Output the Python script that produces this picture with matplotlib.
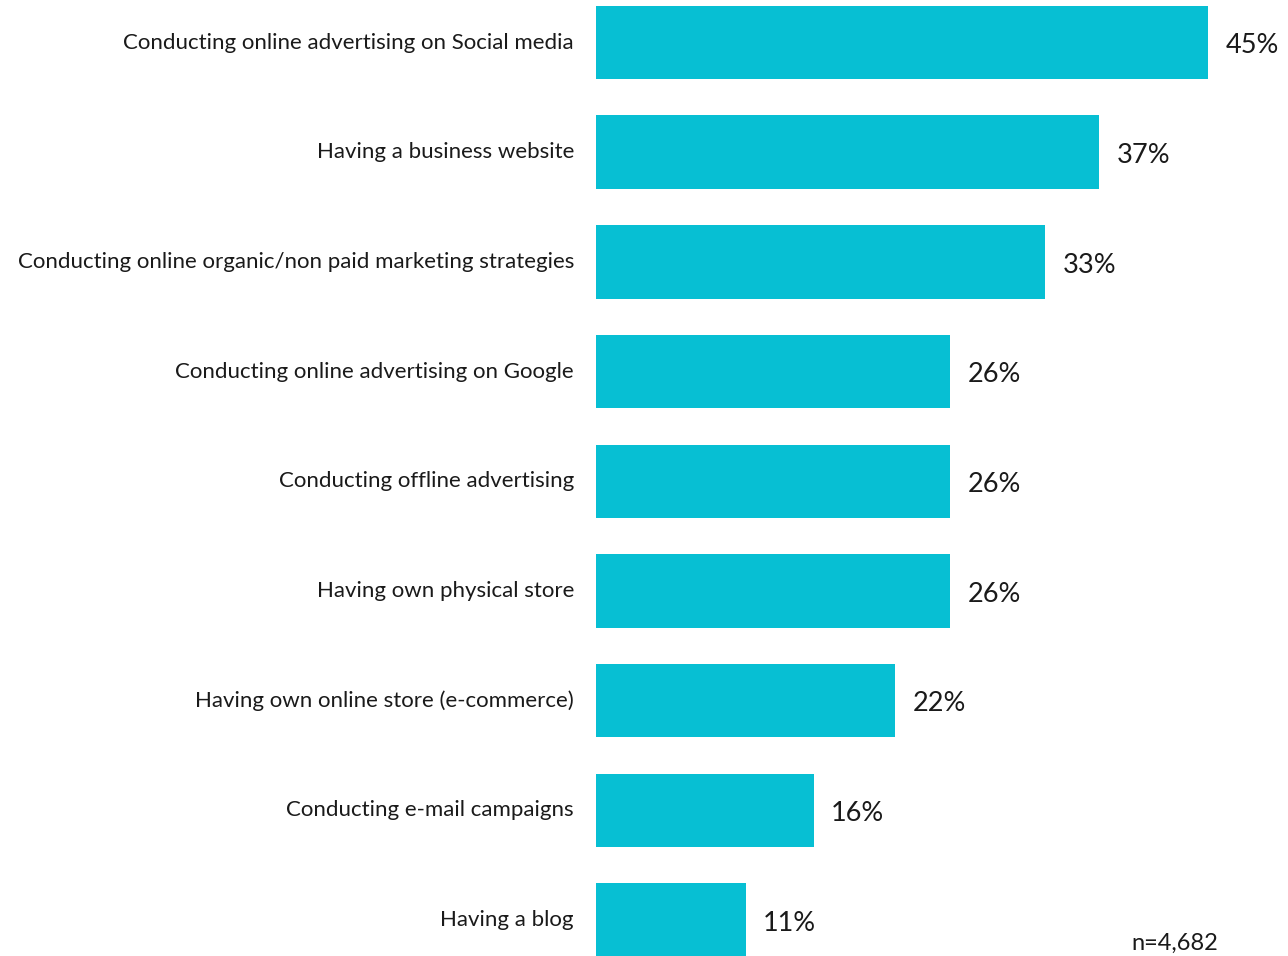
import matplotlib
matplotlib.use("Agg")
import matplotlib.pyplot as plt

categories = [
    "Conducting online advertising on Social media",
    "Having a business website",
    "Conducting online organic/non paid marketing strategies",
    "Conducting online advertising on Google",
    "Conducting offline advertising",
    "Having own physical store",
    "Having own online store (e-commerce)",
    "Conducting e-mail campaigns",
    "Having a blog",
]
values = [45, 37, 33, 26, 26, 26, 22, 16, 11]
sample_note = "n=4,682"

BAR_COLOR = "#07BFD3"
TEXT_COLOR = "#1a1a1a"
FONT = ["Lato", "DejaVu Sans"]

W, H, DPI = 1288, 956, 100
fig = plt.figure(figsize=(W / DPI, H / DPI), dpi=DPI)
fig.patch.set_facecolor("white")

# axes span from the bar baseline to the right edge of the figure
left_px = 596
ax = fig.add_axes([left_px / W, 0, (W - left_px) / W, 1])
px_per_unit = 13.6
ax.set_xlim(0, (W - left_px) / px_per_unit)

step = 109.7
first_center = 42.5
ax.set_ylim((H - first_center) / step, -first_center / step)

ypos = list(range(len(categories)))
ax.barh(ypos, values, height=0.67, color=BAR_COLOR, edgecolor="none")

for y, v, name in zip(ypos, values, categories):
    ax.text(v + 1.3, y + 0.03, f"{v}%", ha="left", va="center",
            fontsize=19.5, color=TEXT_COLOR, family=FONT)
    ax.annotate(name, xy=(0, y), xycoords="data", xytext=(-22, 0),
                textcoords="offset pixels", ha="right", va="center",
                fontsize=16, color=TEXT_COLOR, family=FONT,
                annotation_clip=False)

fig.text(1175 / W, 1 - 943 / H, sample_note, ha="center", va="center",
         fontsize=17, color=TEXT_COLOR, family=FONT)

ax.axis("off")
fig.savefig("out.png", dpi=DPI, facecolor="white")
